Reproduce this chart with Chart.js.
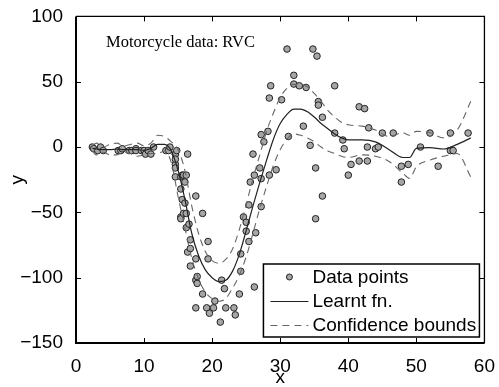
<!DOCTYPE html>
<html>
<head>
<meta charset="utf-8">
<script src="https://cdn.jsdelivr.net/npm/chart.js@4.4.1/dist/chart.umd.min.js"></script>
<style>
  html, body { margin: 0; padding: 0; background: #fff; }
  #wrap { width: 499px; height: 387px; }
</style>
</head>
<body>
<div id="wrap"><canvas id="myChart"></canvas></div>
<script>
// Motorcycle data (time, acceleration)
const times = [2.4, 2.6, 3.2, 3.6, 4.0, 6.2, 6.6, 6.8, 7.8, 8.2, 8.8, 8.8, 9.6, 10.0, 10.2, 10.6, 11.0, 11.4, 13.2, 13.6,
  13.8, 14.6, 14.6, 14.6, 14.6, 14.6, 14.6, 14.8, 15.4, 15.4, 15.4, 15.4, 15.6, 15.6, 15.8, 15.8, 16.0, 16.0, 16.2, 16.2,
  16.2, 16.4, 16.4, 16.6, 16.8, 16.8, 16.8, 17.6, 17.6, 17.6, 17.6, 17.8, 17.8, 18.6, 18.6, 19.2, 19.4, 19.4, 19.6, 20.2,
  20.4, 21.2, 21.4, 21.8, 22.0, 23.2, 23.4, 24.0, 24.2, 24.2, 24.6, 25.0, 25.0, 25.4, 25.4, 25.6, 26.0, 26.2, 26.2, 26.4,
  27.0, 27.2, 27.2, 27.2, 27.6, 28.2, 28.4, 28.4, 28.6, 29.4, 30.2, 31.0, 31.2, 32.0, 32.0, 32.8, 33.4, 33.8, 34.4, 34.8,
  35.2, 35.2, 35.4, 35.6, 35.6, 36.2, 36.2, 38.0, 38.0, 39.2, 39.4, 40.0, 40.4, 41.6, 41.6, 42.4, 42.8, 42.8, 43.0, 44.0,
  44.4, 45.0, 46.6, 47.8, 47.8, 48.8, 50.6, 52.0, 53.2, 55.0, 55.0, 55.4, 57.6];
const accel = [0.0, -1.3, -2.7, 0.0, -2.7, -2.7, -2.7, -1.3, -2.7, -2.7, -1.3, -2.7, -2.7, -2.7, -5.4, -2.7, -5.4, 0.0, -2.7, -2.7,
  0.0, -13.3, -5.4, -5.4, -9.3, -16.0, -22.8, -2.7, -22.8, -32.1, -53.5, -54.9, -40.2, -21.5, -21.5, -50.8, -42.9, -26.8, -21.5, -50.8,
  -61.7, -5.4, -80.4, -59.0, -71.0, -91.1, -77.7, -37.5, -85.6, -123.1, -101.9, -99.1, -104.4, -112.5, -50.8, -123.1, -85.6, -72.3, -127.2, -123.1,
  -117.9, -134.0, -101.9, -108.4, -123.1, -123.1, -128.5, -112.5, -95.1, -81.8, -53.5, -64.4, -57.6, -72.3, -44.3, -26.8, -5.4, -107.1, -21.5, -65.6,
  -16.0, -45.6, -24.2, 9.5, 4.0, 12.0, -21.5, 37.5, 46.9, -17.4, 36.2, 75.0, 8.1, 54.9, 48.2, 46.9, 16.0, 45.6, 1.3, 75.0,
  -16.0, -54.9, 69.6, 34.8, 32.1, -37.5, 22.8, 46.9, 10.7, 5.4, -1.3, -21.5, -13.3, 30.8, -10.7, 29.4, 0.0, -10.7, 14.7, -1.3,
  0.0, 10.7, 10.7, -26.8, -14.7, -13.3, 0.0, 10.7, -14.7, -2.7, 10.7, -2.7, 10.7];

// learnt function and confidence bounds
const fitX  = [2.4, 3, 4, 5, 6, 7, 8, 9, 10, 11, 12, 13, 14, 15, 16, 17, 18, 19, 20, 21, 22, 23, 24, 25, 26, 27, 28, 29, 30,
  31, 32, 33, 34, 35, 36, 37, 38, 39, 40, 42, 44, 46, 48, 49, 50, 52, 54, 56, 58];
const fitY  = [-1, -1.5, -2, -2, -1.5, -2, -2, -2, -2.5, -1, 2, 2, -3, -18, -40, -66, -83, -94, -100, -103, -102, -95, -82, -64, -45, -27, -10, 6, 18,
  25, 29, 29, 27, 23, 18, 14, 10, 7, 5.5, 5.5, 4, -2, -8, -8, -1, -0.5, -1.5, 2, 7];
const upperY = [1, 3, 0, 2, 3, 1, 2, 3, 1, 3, 9, 8, 4, -2, -18, -45, -66, -80, -87, -89, -86, -78, -63, -44, -24, -6, 12, 26, 38,
  45, 48, 48, 46, 41, 35, 28, 23, 19, 17, 16, 13, 8, 11, 9, 12, 11, 7, 13, 35];
const lowerY = [-3, -6, -4, -6, -6, -4, -5, -7, -6, -5, -5, -3, -12, -38, -62, -85, -101, -111, -116, -118, -116, -108, -98, -84, -66, -47, -30, -14, -2,
  6, 10, 9, 7, 4, 0, -3, -5, -7, -8, -6, -7, -11, -20, -24, -15, -10, -7, -5, -23];

const xTicks = [0, 10, 20, 30, 40, 50, 60];
const yTicks = [-150, -100, -50, 0, 50, 100];

const pts = (xs, ys) => xs.map((v, i) => ({x: v, y: ys[i]}));

// matlab style box, inward ticks, note text and legend
const matlabBox = {
    id: 'matlabBox',
    afterDraw(chart) {
        const {ctx, chartArea: a, scales: {x, y}} = chart;
        ctx.save();
        ctx.strokeStyle = '#000';
        ctx.lineWidth = 1;
        ctx.beginPath();
        xTicks.forEach(v => {
            const px = Math.round(x.getPixelForValue(v)) + 0.5;
            ctx.moveTo(px, a.bottom); ctx.lineTo(px, a.bottom - 5);
            ctx.moveTo(px, a.top); ctx.lineTo(px, a.top + 5);
        });
        yTicks.forEach(v => {
            const py = Math.round(y.getPixelForValue(v)) + 0.5;
            ctx.moveTo(a.left, py); ctx.lineTo(a.left + 5, py);
            ctx.moveTo(a.right, py); ctx.lineTo(a.right - 5, py);
        });
        ctx.stroke();
        // box
        ctx.lineWidth = 1.3;
        ctx.beginPath();
        ctx.moveTo(a.left, a.top); ctx.lineTo(a.right, a.top); ctx.lineTo(a.right, a.bottom);
        ctx.stroke();
        ctx.lineWidth = 2;
        ctx.beginPath();
        ctx.moveTo(a.left, a.top); ctx.lineTo(a.left, a.bottom); ctx.lineTo(a.right, a.bottom);
        ctx.stroke();

        // note text
        ctx.fillStyle = '#000';
        ctx.font = '16.5px "Liberation Serif", serif';
        ctx.textAlign = 'left';
        ctx.textBaseline = 'alphabetic';
        ctx.fillText('Motorcycle data: RVC', a.left + 30, a.top + 31);

        // legend
        const lw = 216, lh = 73;
        const lx = a.right - 5 - lw, ly = a.bottom - 6 - lh;
        ctx.fillStyle = '#fff';
        ctx.fillRect(lx, ly, lw, lh);
        ctx.lineWidth = 1.5;
        ctx.strokeStyle = '#000';
        ctx.strokeRect(lx, ly, lw, lh);
        const ds = chart.data.datasets;
        const rows = [ds[0], ds[1], ds[2]];
        ctx.font = '19px "Liberation Sans", Arial, sans-serif';
        ctx.textBaseline = 'middle';
        rows.forEach((d, i) => {
            const ry = ly + 13 + i * 24;
            if (i === 0) {
                ctx.beginPath();
                ctx.arc(lx + 26, ry, 3, 0, Math.PI * 2);
                ctx.fillStyle = d.backgroundColor;
                ctx.fill();
                ctx.lineWidth = 1;
                ctx.strokeStyle = d.borderColor;
                ctx.stroke();
            } else {
                ctx.beginPath();
                ctx.setLineDash(d.borderDash || []);
                ctx.lineWidth = 1;
                ctx.strokeStyle = d.borderColor;
                ctx.moveTo(lx + 7, ry + 0.5); ctx.lineTo(lx + 45, ry + 0.5);
                ctx.stroke();
                ctx.setLineDash([]);
            }
            ctx.fillStyle = '#000';
            ctx.fillText(d.label, lx + 49, ry + 1);
        });
        ctx.restore();
    }
};

const tickFont = {family: '"Liberation Sans", Arial, sans-serif', size: 19};

new Chart(document.getElementById('myChart'), {
    type: 'scatter',
    data: {
        datasets: [{
            label: 'Data points',
            data: pts(times, accel),
            backgroundColor: '#a6a6a6',
            borderColor: '#222',
            borderWidth: 1,
            pointRadius: 3.3,
            order: 4
        }, {
            label: 'Learnt fn.',
            data: pts(fitX, fitY),
            showLine: true,
            borderColor: '#222',
            borderWidth: 1.2,
            pointRadius: 0,
            cubicInterpolationMode: 'monotone',
            order: 1
        }, {
            label: 'Confidence bounds',
            data: pts(fitX, upperY),
            showLine: true,
            borderColor: '#666',
            borderWidth: 1.1,
            borderDash: [7, 5],
            pointRadius: 0,
            cubicInterpolationMode: 'monotone',
            order: 2
        }, {
            label: 'lower',
            data: pts(fitX, lowerY),
            showLine: true,
            borderColor: '#666',
            borderWidth: 1.1,
            borderDash: [7, 5],
            pointRadius: 0,
            cubicInterpolationMode: 'monotone',
            order: 3
        }]
    },
    options: {
        responsive: true,
        maintainAspectRatio: false,
        animation: false,
        layout: { padding: {top: 16, right: 12, left: 0, bottom: 0} },
        scales: {
            x: {
                type: 'linear',
                min: 0, max: 60,
                grid: { display: false },
                border: { display: false },
                afterBuildTicks: s => { s.ticks = xTicks.map(v => ({value: v})); },
                afterFit: s => { s.height = 44; },
                ticks: { color: '#000', font: tickFont, padding: 4, maxRotation: 0 },
                title: { display: true, text: 'x', color: '#000', font: {...tickFont, lineHeight: 1}, padding: 0 }
            },
            y: {
                min: -150, max: 100,
                grid: { display: false },
                border: { display: false },
                afterBuildTicks: s => { s.ticks = yTicks.map(v => ({value: v})); },
                afterFit: s => { s.width = 76; },
                ticks: {
                    color: '#000', font: tickFont, padding: 5,
                    callback: v => String(v).replace('-', '\u2212')
                },
                title: { display: true, text: 'y', color: '#000', font: {...tickFont, lineHeight: 1}, padding: {top: 8} }
            }
        },
        plugins: {
            legend: { display: false },
            tooltip: { enabled: false }
        }
    },
    plugins: [matlabBox]
});
</script>
</body>
</html>
